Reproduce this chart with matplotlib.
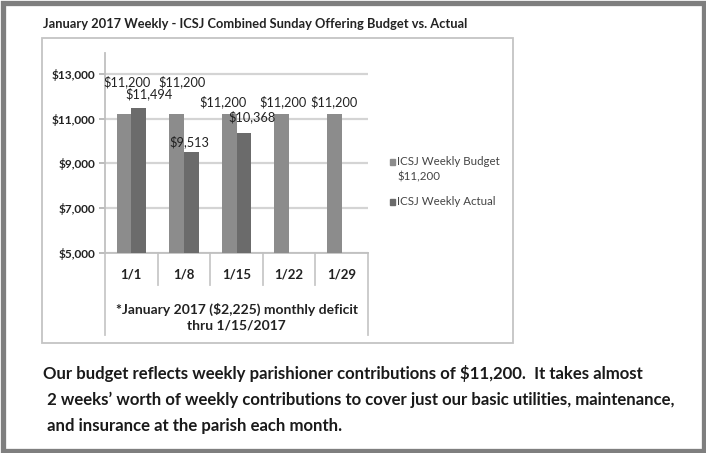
import matplotlib
matplotlib.use("Agg")
import matplotlib.pyplot as plt
from matplotlib.patches import Rectangle
import matplotlib.transforms as mtransforms

plt.rcParams['font.family'] = ['Lato', 'DejaVu Sans']

# data
weeks = ["1/1", "1/8", "1/15", "1/22", "1/29"]
budget = [11200, 11200, 11200, 11200, 11200]
actual = [11494, 9513, 10368, None, None]
yticks = [5000, 7000, 9000, 11000, 13000]

title = "January 2017 Weekly - ICSJ Combined Sunday Offering Budget vs. Actual"
note = "*January 2017 ($2,225) monthly deficit\nthru 1/15/2017"
body = ["Our budget reflects weekly parishioner contributions of $11,200.  It takes almost",
        " 2 weeks\u2019 worth of weekly contributions to cover just our basic utilities, maintenance,",
        " and insurance at the parish each month."]

W, H = 706, 453
fig = plt.figure(figsize=(W/100, H/100), dpi=100)

def fx(x):
    return x / W
def fy(y):
    return 1 - y / H

# outer frame and chart box
fig.patches.append(Rectangle((fx(2.5), fy(450.5)), fx(701), (448)/H, transform=fig.transFigure,
                             fill=False, edgecolor="#7f7f7f", linewidth=3.8))
fig.patches.append(Rectangle((fx(42), fy(343)), fx(471), (305)/H, transform=fig.transFigure,
                             fill=False, edgecolor="#c4c4c4", linewidth=1.3))

fig.text(fx(43), fy(24), title, fontsize=9.3, fontweight='bold', color='#222222', va='center', ha='left')

ax = fig.add_axes([fx(105), fy(253), fx(368-105), (253-53)/H])
x = list(range(len(weeks)))
w = 0.28
ax.bar([i - w/2 for i in x], budget, width=w, color="#8c8c8c", zorder=3)
xa = [i + w/2 for i, v in zip(x, actual) if v is not None]
va = [v for v in actual if v is not None]
ax.bar(xa, va, width=w, color="#6b6b6b", zorder=3)

# data labels (offsets in pixels)
boff = [(3, 32), (5, 32), (-6, 12), (1, 12), (0, 12)]
aoff = [(10, 14), (-2, 10), (8, 16)]
for i, v in enumerate(budget):
    ax.annotate("${:,}".format(v), (i - w/2, v), xytext=boff[i], textcoords='offset pixels',
                ha='center', va='center', fontsize=9.2, color='#222222', zorder=5)
for j, (xi, v) in enumerate(zip(xa, va)):
    ax.annotate("${:,}".format(v), (xi, v), xytext=aoff[j], textcoords='offset pixels',
                ha='center', va='center', fontsize=9.2, color='#222222', zorder=5)

ax.set_xlim(-0.5, 4.5)
ax.set_ylim(5000, 13930)
ax.set_yticks(yticks)
ax.set_yticklabels(["${:,}".format(t) for t in yticks], fontsize=8.6, fontweight='bold', color='#222222')
ax.yaxis.grid(True, color="#d4d4d4", linewidth=1.6, zorder=0)
ax.tick_params(axis='y', length=4, color="#b0b0b0", width=1.2, pad=3)
ax.set_xticks(x)
ax.set_xticklabels(weeks, fontsize=9.5, fontweight='bold', color='#222222')
ax.tick_params(axis='x', length=0, pad=11)
for s in ['top', 'right']:
    ax.spines[s].set_visible(False)
ax.spines['left'].set_color("#c0c0c0")
ax.spines['left'].set_linewidth(1.3)
ax.spines['bottom'].set_color("#c0c0c0")
ax.spines['bottom'].set_linewidth(1.3)

# category separators
trans = mtransforms.blended_transform_factory(ax.transData, ax.transAxes)
for k in range(len(weeks) + 1):
    b = k - 0.5
    bot = -0.41 if k in (0, len(weeks)) else -0.16
    ax.plot([b, b], [0, bot], transform=trans, color="#c8c8c8", linewidth=1.3, clip_on=False)
ax.text(2, -0.32, note, transform=trans, ha='center', va='center', fontsize=10,
        fontweight='bold', color='#222222', linespacing=1.35)

# legend
items = [("ICSJ Weekly Budget\n$11,200", "#8c8c8c", 162), ("ICSJ Weekly Actual", "#6b6b6b", 202)]
for lab, c, yy in items:
    fig.patches.append(Rectangle((fx(389.5), fy(yy + 2.5)), 5/W, 5/H, transform=fig.transFigure,
                                 color=c))
    fig.text(fx(397), fy(yy - 6), lab, fontsize=8.3, color='#444444', va='top', ha='left', linespacing=1.45)

for n, line in enumerate(body):
    fig.text(fx(43), fy(373 + 26.5*n), line, fontsize=12.1, fontweight='bold', color='#1a1a1a',
             va='center', ha='left')

fig.savefig("out.png", dpi=100)
